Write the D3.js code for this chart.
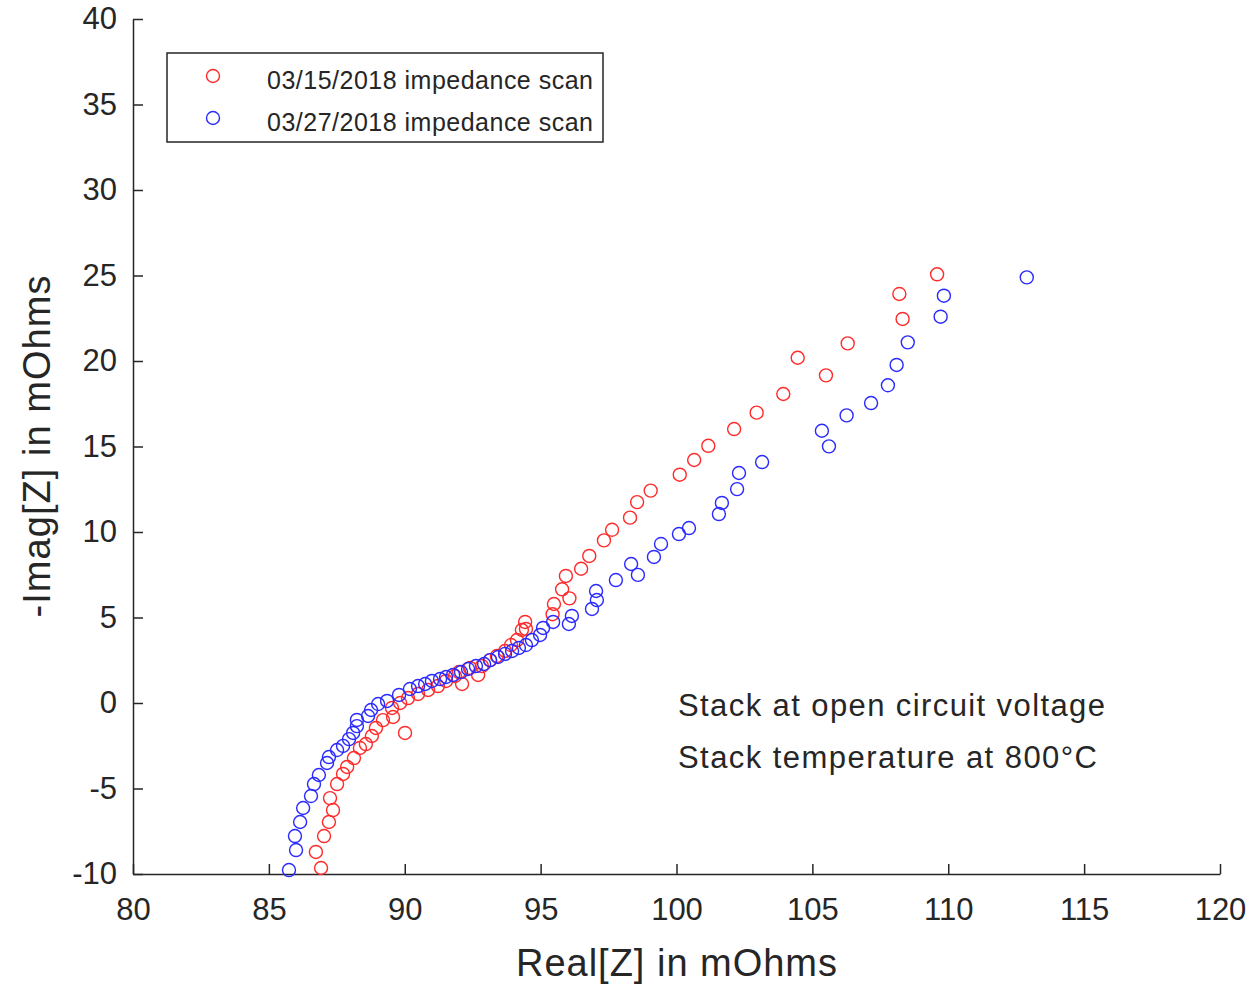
<!DOCTYPE html>
<html><head><meta charset="utf-8">
<script src="https://cdn.jsdelivr.net/npm/d3@7"></script>
<style>body{margin:0;background:#fff}svg{display:block}text{font-family:"Liberation Sans",Arial,sans-serif;fill:#262626}</style>
</head><body>
<svg id="c" width="1253" height="986"></svg>
<script>
const xTicks = [80,85,90,95,100,105,110,115,120];
const yTicks = [-10,-5,0,5,10,15,20,25,30,35,40];
const seriesNames = ["03/15/2018 impedance scan","03/27/2018 impedance scan"];
const seriesColors = ["#ff2a2a","#2a2aff"];
const annotations = ["Stack at open circuit voltage","Stack temperature at 800\u00B0C"];

const redReal = [86.92,86.73,87.03,87.21,87.36,87.25,87.51,87.73,87.88,88.13,88.35,88.57,88.79,88.94,89.20,89.57,90.01,89.53,89.83,90.12,90.49,90.86,91.22,91.52,91.85,92.11,92.00,92.40,92.70,92.84,93.14,93.39,93.69,93.91,94.13,94.31,94.43,94.46,95.44,95.49,96.06,95.79,95.93,96.49,96.79,97.33,97.63,98.29,98.55,99.05,100.12,100.65,101.17,102.12,102.95,103.93,105.50,104.46,106.30,108.32,108.20,109.59];
const redImag = [-9.65,-8.71,-7.78,-6.96,-6.26,-5.56,-4.74,-4.15,-3.74,-3.22,-2.63,-2.40,-1.93,-1.46,-1.00,-0.82,-1.75,-0.29,0.00,0.29,0.53,0.76,0.99,1.29,1.58,1.11,1.81,2.05,1.64,2.16,2.51,2.75,3.04,3.39,3.68,4.27,4.74,4.33,5.19,5.79,6.12,6.65,7.43,7.85,8.60,9.51,10.13,10.84,11.75,12.42,13.35,14.21,15.04,16.02,16.98,18.07,19.16,20.19,21.03,22.46,23.92,25.07];

const blueReal = [85.74,86.00,85.96,86.15,86.26,86.55,86.66,86.84,87.14,87.21,87.51,87.73,87.95,88.10,88.24,88.24,88.65,88.76,89.02,89.35,89.79,90.19,90.49,90.75,91.00,91.30,91.52,91.78,92.07,92.33,92.62,92.92,93.14,93.43,93.69,93.95,94.20,94.46,94.68,94.98,95.09,95.46,96.04,96.15,96.89,97.07,97.04,97.77,98.58,98.33,99.17,99.43,100.09,100.46,101.56,101.67,102.23,102.30,103.15,105.61,105.35,106.26,107.16,107.78,108.10,108.51,109.72,109.84,112.89];
const blueImag = [-9.77,-8.60,-7.78,-6.96,-6.14,-5.44,-4.74,-4.21,-3.51,-3.16,-2.75,-2.51,-2.11,-1.75,-1.35,-0.99,-0.76,-0.41,-0.06,0.12,0.47,0.82,0.99,1.11,1.29,1.40,1.52,1.64,1.81,1.99,2.16,2.28,2.51,2.69,2.87,3.04,3.22,3.39,3.68,3.98,4.39,4.74,4.62,5.09,5.50,6.02,6.55,7.19,7.49,8.13,8.54,9.30,9.88,10.23,11.05,11.70,12.51,13.45,14.09,15.01,15.92,16.82,17.54,18.58,19.77,21.09,22.59,23.82,24.89];

const svg = d3.select("#c");
const L=133, R=1220, T=19, B=874;
const x = d3.scaleLinear().domain([80,120]).range([L,R]);
const y = d3.scaleLinear().domain([-10,40]).range([B,T]);
const axisColor = "#262626";
const fmt = d => String(d);

const gx = svg.append("g").attr("transform",`translate(0,${B})`)
  .call(d3.axisBottom(x).tickValues(xTicks).tickFormat(fmt).tickSizeInner(-10).tickSizeOuter(0).tickPadding(24));
const gy = svg.append("g").attr("transform",`translate(${L},0)`)
  .call(d3.axisLeft(y).tickValues(yTicks).tickFormat(fmt).tickSizeInner(-10).tickSizeOuter(0).tickPadding(16));
[gx,gy].forEach(g=>{
  g.select(".domain").attr("stroke",axisColor).attr("stroke-width",1.5);
  g.selectAll(".tick line").attr("stroke",axisColor).attr("stroke-width",1.5);
  g.selectAll(".tick text").attr("font-size",31).attr("fill","#262626").attr("font-family","Liberation Sans, Arial, sans-serif");
});
svg.append("text").attr("x",(L+R)/2).attr("y",976).attr("text-anchor","middle")
  .attr("font-size",38).attr("textLength",321).attr("lengthAdjust","spacing").text("Real[Z] in mOhms");
svg.append("text").attr("transform",`translate(50,${(T+B)/2}) rotate(-90)`).attr("text-anchor","middle")
  .attr("font-size",38).attr("textLength",342).attr("lengthAdjust","spacing").text("-Imag[Z] in mOhms");

const series = [
  {name:seriesNames[0], color:seriesColors[0], xs:redReal, ys:redImag},
  {name:seriesNames[1], color:seriesColors[1], xs:blueReal, ys:blueImag}
];
series.forEach(s=>{
  svg.append("g").selectAll("circle").data(s.xs.map((v,i)=>[v,s.ys[i]])).join("circle")
    .attr("cx",d=>x(d[0])).attr("cy",d=>y(d[1])).attr("r",6.5)
    .attr("fill","none").attr("stroke",s.color).attr("stroke-width",1.4);
});

// legend
const lg = svg.append("g");
lg.append("rect").attr("x",167).attr("y",53).attr("width",436).attr("height",89)
  .attr("fill","#fff").attr("stroke","#262626").attr("stroke-width",1.5);
series.forEach((s,i)=>{
  const cy = 76 + i*42;
  lg.append("circle").attr("cx",213).attr("cy",cy).attr("r",6.5).attr("fill","none")
    .attr("stroke",s.color).attr("stroke-width",1.4);
  lg.append("text").attr("x",267).attr("y",cy+13).attr("font-size",25)
    .attr("textLength",326).attr("lengthAdjust","spacing").attr("fill","#111").text(s.name);
});

const annLen = [427,419];
annotations.forEach((t,i)=>{
  svg.append("text").attr("x",678).attr("y",716+i*52).attr("font-size",31)
    .attr("textLength",annLen[i]).attr("lengthAdjust","spacing").attr("fill","#111").text(t);
});
</script>
</body></html>
